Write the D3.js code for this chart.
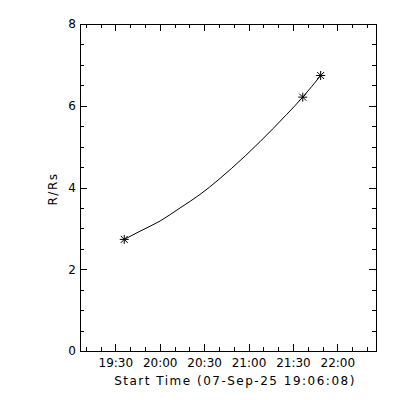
<!DOCTYPE html>
<html>
<head>
<meta charset="utf-8">
<script src="https://cdn.jsdelivr.net/npm/d3@7"></script>
<style>
  html, body { margin: 0; padding: 0; background: #fff; }
  svg { display: block; }
  text { font-family: "DejaVu Sans", sans-serif; fill: #000; }
</style>
</head>
<body>
<svg id="chart" width="400" height="400"></svg>
<script>
// ---- data ----
const startTime = "2025-09-07T19:06:08";
const obsTimes = ["19:36:02", "21:36:38", "21:48:44"];
const obsR = [2.73, 6.21, 6.74];
const fitTimes = ["19:36:02", "19:46:38", "20:00:14", "20:13:44", "20:27:14", "20:40:02",
                  "20:48:38", "21:07:44", "21:25:50", "21:36:38", "21:48:44"];
const fitR = [2.73, 2.93, 3.18, 3.50, 3.83, 4.20, 4.47, 5.12, 5.79, 6.21, 6.74];
const xTickTimes = ["19:30", "20:00", "20:30", "21:00", "21:30", "22:00"];
const xTickLabels = ["19:30", "20:00", "20:30", "21:00", "21:30", "22:00"];
const yTicks = [0, 2, 4, 6, 8];
const xTitle = "Start Time (07-Sep-25 19:06:08)";
const yTitle = "R/Rs";

// ---- helpers ----
const t0 = new Date(startTime);
const day = "2025-09-07T";
const toDate = s => new Date(day + (s.length === 5 ? s + ":00" : s));

const mLeft = 80, mRight = 376, mTop = 24, mBottom = 351;
const x = d3.scaleTime().domain([t0, new Date(t0.getTime() + 12000 * 1000)]).range([mLeft, mRight]);
const y = d3.scaleLinear().domain([0, 8]).range([mBottom, mTop]);

const svg = d3.select("#chart");

const majorX = xTickTimes.map(toDate);
const minorX = d3.timeMinute.every(10).range(new Date(day + "19:10:00"), new Date(day + "22:30:00"));
const minorY = d3.range(0, 8.01, 0.5);

function styleAxis(g) {
  g.select(".domain").remove();
  g.selectAll("line").attr("stroke", "#000").attr("shape-rendering", "crispEdges");
  g.selectAll("text").attr("font-family", "DejaVu Sans, sans-serif").attr("font-size", 12).attr("fill", "#000");
}

// bottom
svg.append("g").attr("transform", `translate(0,${mBottom})`)
  .call(d3.axisBottom(x).tickValues(minorX).tickFormat("").tickSizeInner(-4).tickSizeOuter(0)).call(styleAxis);
svg.append("g").attr("transform", `translate(0,${mBottom})`)
  .call(d3.axisBottom(x).tickValues(majorX).tickFormat((d, i) => xTickLabels[i]).tickSizeInner(-7).tickSizeOuter(0).tickPadding(7.5))
  .call(styleAxis);
// top
svg.append("g").attr("transform", `translate(0,${mTop})`)
  .call(d3.axisTop(x).tickValues(minorX).tickFormat("").tickSizeInner(-4).tickSizeOuter(0)).call(styleAxis);
svg.append("g").attr("transform", `translate(0,${mTop})`)
  .call(d3.axisTop(x).tickValues(majorX).tickFormat("").tickSizeInner(-7).tickSizeOuter(0)).call(styleAxis);
// left
svg.append("g").attr("transform", `translate(${mLeft},0)`)
  .call(d3.axisLeft(y).tickValues(minorY).tickFormat("").tickSizeInner(-4).tickSizeOuter(0)).call(styleAxis);
svg.append("g").attr("transform", `translate(${mLeft},0)`)
  .call(d3.axisLeft(y).tickValues(yTicks).tickFormat(d3.format("d")).tickSizeInner(-7).tickSizeOuter(0).tickPadding(4))
  .call(styleAxis);
// right
svg.append("g").attr("transform", `translate(${mRight},0)`)
  .call(d3.axisRight(y).tickValues(minorY).tickFormat("").tickSizeInner(-4).tickSizeOuter(0)).call(styleAxis);
svg.append("g").attr("transform", `translate(${mRight},0)`)
  .call(d3.axisRight(y).tickValues(yTicks).tickFormat("").tickSizeInner(-7).tickSizeOuter(0)).call(styleAxis);

// frame
svg.append("rect").attr("x", mLeft).attr("y", mTop).attr("width", mRight - mLeft).attr("height", mBottom - mTop)
  .attr("fill", "none").attr("stroke", "#000").attr("shape-rendering", "crispEdges");

// fit curve
const fit = fitTimes.map((t, i) => ({ t: toDate(t), r: fitR[i] }));
svg.append("path").datum(fit)
  .attr("fill", "none").attr("stroke", "#000").attr("stroke-width", 1)
  .attr("d", d3.line().x(d => x(d.t)).y(d => y(d.r)).curve(d3.curveMonotoneX));

// asterisks
const obs = obsTimes.map((t, i) => ({ t: toDate(t), r: obsR[i] }));
const s = 4.5, dg = 3.5;
svg.append("g").selectAll("path").data(obs).join("path")
  .attr("transform", d => `translate(${x(d.t)},${y(d.r)})`)
  .attr("d", `M${-s},0H${s}M0,${-s}V${s}M${-dg},${-dg}L${dg},${dg}M${-dg},${dg}L${dg},${-dg}`)
  .attr("stroke", "#000").attr("stroke-width", 1).attr("fill", "none");

// titles
svg.append("text").attr("x", 235).attr("y", 385).attr("text-anchor", "middle")
  .attr("font-size", 12).attr("letter-spacing", 1.5).text(xTitle);
svg.append("text").attr("transform", `translate(57,189) rotate(-90)`).attr("text-anchor", "middle")
  .attr("font-size", 12).attr("letter-spacing", 1.5).text(yTitle);
</script>
</body>
</html>
